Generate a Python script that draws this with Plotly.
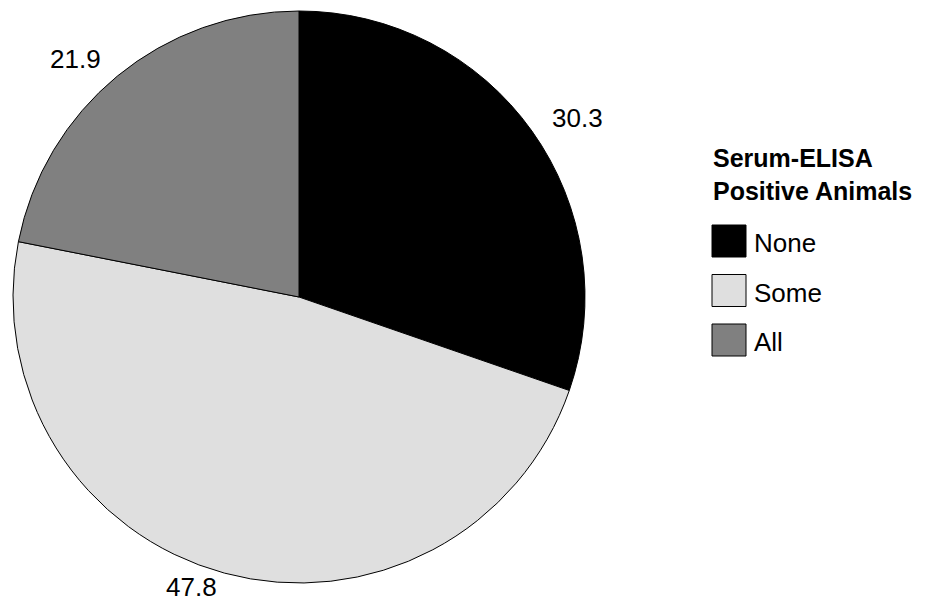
import math
import plotly.graph_objects as go

# ---- data ----
categories = ["None", "Some", "All"]
values = [30.3, 47.8, 21.9]
value_labels = ["30.3", "47.8", "21.9"]
colors = ["#000000", "#dfdfdf", "#808080"]
legend_title = "Serum-ELISA<br>Positive Animals"

W, H = 931, 606
FONT = "Liberation Sans, Arial, sans-serif"

# pie domain in pixels
px0, px1 = 13, 585
py_top, py_bot = 11, 583
dom_x = [px0 / W, px1 / W]
dom_y = [1 - py_bot / H, 1 - py_top / H]
cx, cy = (px0 + px1) / 2, (py_top + py_bot) / 2
R = (px1 - px0) / 2

fig = go.Figure(go.Pie(
    labels=categories,
    values=values,
    sort=False,
    direction="clockwise",
    rotation=0,
    marker=dict(colors=colors, line=dict(color="#000000", width=1)),
    textinfo="none",
    hoverinfo="label+value",
    showlegend=False,
    domain=dict(x=dom_x, y=dom_y),
))

annotations = []
shapes = []

# value labels outside each slice, at slice mid-angle, anchored on the side
# facing the pie (kept inside the canvas)
total = sum(values)
cum = 0.0
for v, lab in zip(values, value_labels):
    mid = (cum + v / 2) / total * 2 * math.pi
    cum += v
    d = R + 22
    s, c = math.sin(mid), math.cos(mid)
    x = cx + d * s
    y = cy - d * c
    y = min(max(y, 18), H - 19)
    annotations.append(dict(
        x=x / W, y=1 - y / H, xref="paper", yref="paper",
        text=lab, showarrow=False,
        xanchor="left" if s > 0 else "right", yanchor="middle",
        font=dict(family=FONT, size=26, color="#000000"),
    ))

# custom legend
annotations.append(dict(
    x=711 / W, y=1 - 174 / H, xref="paper", yref="paper",
    text="<b>" + legend_title.replace("<br>", "</b><br><b>") + "</b>",
    showarrow=False, xanchor="left", yanchor="middle", align="left",
    font=dict(family=FONT, size=25, color="#000000"),
))
for i, (cat, col) in enumerate(zip(categories, colors)):
    yc = 241 + i * 49.5
    shapes.append(dict(
        type="rect", xref="paper", yref="paper",
        x0=712 / W, x1=746 / W, y0=1 - (yc - 16) / H, y1=1 - (yc + 16) / H,
        fillcolor=col, line=dict(color="#000000", width=1),
    ))
    annotations.append(dict(
        x=752 / W, y=1 - (yc + 2) / H, xref="paper", yref="paper",
        text=cat, showarrow=False, xanchor="left", yanchor="middle",
        font=dict(family=FONT, size=26, color="#000000"),
    ))

fig.update_layout(
    width=W, height=H,
    margin=dict(l=0, r=0, t=0, b=0),
    paper_bgcolor="#ffffff", plot_bgcolor="#ffffff",
    annotations=annotations, shapes=shapes,
)

fig.write_html(
    "out.html",
    config={"displayModeBar": False},
    post_script="document.body.style.margin='0';document.body.style.padding='0';",
)
